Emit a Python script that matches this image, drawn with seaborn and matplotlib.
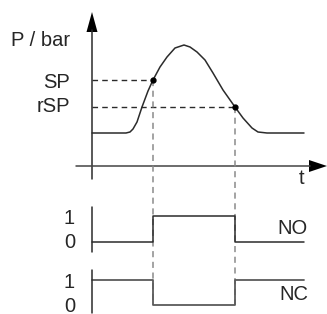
import numpy as np
import pandas as pd
import matplotlib
matplotlib.use("Agg")
import matplotlib.pyplot as plt
import seaborn as sns

# pressure curve (x = time px, y = pressure px, screen coords)
curve_t = [92, 126, 130, 133, 137, 142, 148, 153, 160, 167, 175, 184, 190,
           197, 205, 213, 223, 235, 243, 252, 258, 267, 304]
curve_p = [133, 133, 132, 129, 122, 107, 91, 80, 67, 57, 48, 45, 47,
           52, 60, 73, 90, 107, 118, 128, 132, 133, 133]

# switch points
sp_t, sp_p = 153, 80
rsp_t, rsp_p = 235, 107

# contact states
switch_t = [92, 153, 235, 304]
no_state = [0, 1, 0, 0]
nc_state = [1, 0, 1, 1]

sns.set_theme(style="white")
plt.rcParams['font.family'] = ['Liberation Sans', 'DejaVu Sans']

fig = plt.figure(figsize=(3.27, 3.14), dpi=100)
ax = fig.add_axes([0, 0, 1, 1])
ax.set_xlim(0, 327)
ax.set_ylim(314, 0)
ax.axis("off")

axis_x = 92
axis_y = 166
dark = "#2b2b2b"

# main axes
ax.plot([axis_x, axis_x], [30, 179], color=dark, lw=1.1)
ax.plot([76, 310], [axis_y, axis_y], color="#444444", lw=1.1)
ax.fill([axis_x - 5.5, axis_x + 5.5, axis_x], [32, 32, 12], color="black", lw=0)
ax.fill([309, 309, 327], [axis_y - 6, axis_y + 6, axis_y], color="black", lw=0)

# dashed reference lines
ax.plot([axis_x, sp_t], [sp_p, sp_p], color=dark, lw=1, ls=(0, (4, 3)))
ax.plot([axis_x, rsp_t], [rsp_p, rsp_p], color=dark, lw=1, ls=(0, (4, 3)))
ax.plot([sp_t, sp_t], [sp_p, 305], color="#8a8a8a", lw=1.1, ls=(0, (4, 3)))
ax.plot([rsp_t, rsp_t], [rsp_p, 305], color="#8a8a8a", lw=1.1, ls=(0, (4, 3)))

# pressure curve
df = pd.DataFrame({"t": curve_t, "p": curve_p})
sns.lineplot(data=df, x="t", y="p", ax=ax, color=dark, lw=1.1,
             estimator=None, sort=False)
ax.plot([sp_t, rsp_t], [sp_p, rsp_p], ls="none", marker="o", ms=3.5, color="black")

# NO / NC signals
no_low, no_high = 242, 216
nc_low, nc_high = 305, 280
no_y = [no_low - s * (no_low - no_high) for s in no_state]
nc_y = [nc_low - s * (nc_low - nc_high) for s in nc_state]
sns.lineplot(x=switch_t, y=no_y, ax=ax, color=dark, lw=1.1,
             drawstyle="steps-post", estimator=None, sort=False)
sns.lineplot(x=switch_t, y=nc_y, ax=ax, color="#5a5a5a", lw=1.3,
             drawstyle="steps-post", estimator=None, sort=False)
ax.plot([axis_x, axis_x], [207, 252], color=dark, lw=1.1)
ax.plot([axis_x, axis_x], [270, 313], color=dark, lw=1.1)

# labels
fs = 14.5
ax.text(70, 40, "P / bar", ha="right", va="center", fontsize=fs)
ax.text(70, 82, "SP", ha="right", va="center", fontsize=fs)
ax.text(70, 107, "rSP", ha="right", va="center", fontsize=fs)
ax.text(302, 178, "t", ha="center", va="center", fontsize=fs)
ax.text(75, 218, "1", ha="right", va="center", fontsize=fs)
ax.text(75, 243, "0", ha="right", va="center", fontsize=fs)
ax.text(75, 282, "1", ha="right", va="center", fontsize=fs)
ax.text(75, 306, "0", ha="right", va="center", fontsize=fs)
ax.text(308, 228, "NO", ha="right", va="center", fontsize=fs)
ax.text(308, 295, "NC", ha="right", va="center", fontsize=fs)

fig.savefig("out.png", dpi=100)
